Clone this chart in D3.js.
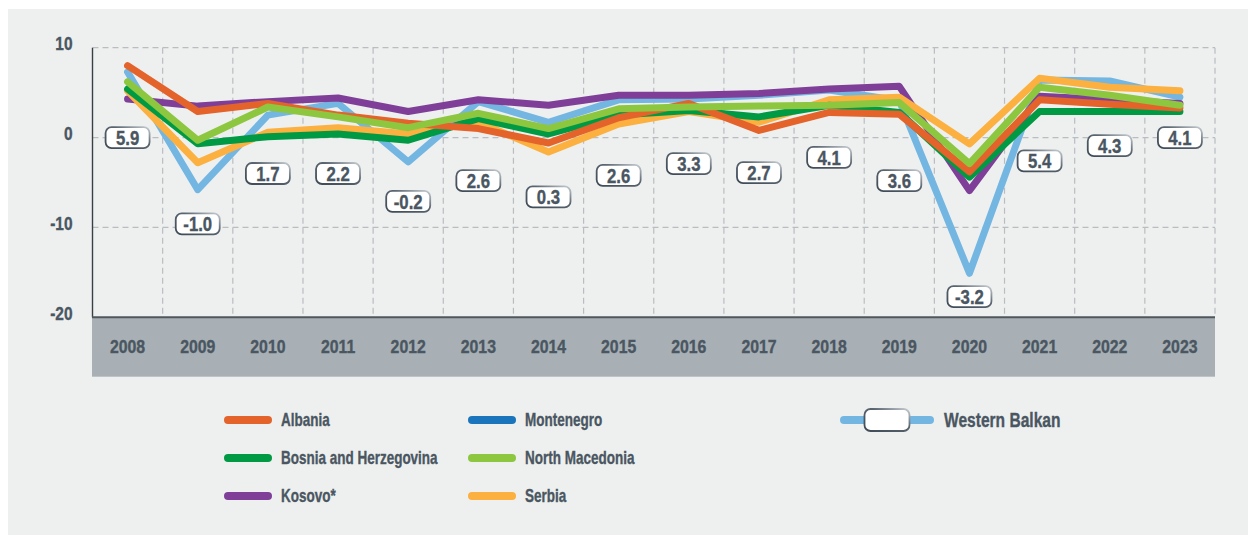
<!DOCTYPE html>
<html>
<head>
<meta charset="utf-8">
<script src="https://cdn.jsdelivr.net/npm/d3@7"></script>
<style>
  html, body { margin: 0; padding: 0; background: #ffffff; }
  svg { display: block; }
  text { font-family: "Liberation Sans", Arial, sans-serif; font-weight: bold; fill: #4a5661; stroke: #4a5661; stroke-width: 0.35px; }
</style>
</head>
<body>
<svg id="chart" width="1248" height="535"></svg>
<script>
// ---------- data ----------
const years = ["2008","2009","2010","2011","2012","2013","2014","2015","2016","2017","2018","2019","2020","2021","2022","2023"];
const albania = [8.0, 2.9, 3.8, 2.5, 1.6, 1.0, -0.6, 2.2, 3.8, 0.8, 2.8, 2.6, -3.8, 4.2, 3.7, 3.3];
const bosnia  = [5.4, -0.7, 0.1, 0.4, -0.3, 2.1, 0.4, 2.5, 3.0, 2.3, 3.6, 2.8, -4.4, 2.9, 2.9, 2.9];
const kosovo  = [4.3, 3.5, 4.0, 4.4, 2.9, 4.2, 3.6, 4.7, 4.7, 4.9, 5.4, 5.7, -5.9, 4.6, 4.2, 3.8];
const northMacedonia = [6.2, -0.3, 3.4, 2.3, 1.1, 2.7, 1.0, 3.2, 3.4, 3.5, 3.6, 3.9, -2.9, 5.6, 4.7, 3.6];
const serbia  = [5.2, -2.8, 0.6, 1.1, 0.4, 1.7, -1.6, 1.5, 2.9, 1.7, 4.2, 4.5, -0.7, 6.6, 5.6, 5.2];
const westernBalkan = [7.3, -5.8, 2.5, 3.8, -2.7, 4.0, 1.7, 4.2, 4.3, 4.7, 5.3, 4.1, -15.1, 6.4, 6.3, 4.5];
const wbLabels = [5.9, -1.0, 1.7, 2.2, -0.2, 2.6, 0.3, 2.6, 3.3, 2.7, 4.1, 3.6, -3.2, 5.4, 4.3, 4.1];
const yTicks = [10, 0, -10, -20];

// layout: where each label box sits, in axis units
const labelAnchor = [0, -9.6, -4.0, -4.0, -7.1, -4.8, -6.6, -4.2, -2.9, -3.9, -2.2, -4.8, -17.7, -2.6, -0.9, 0];

const series = [
  {name: "Western Balkan", values: westernBalkan, color: "#74b6e2"},
  {name: "Kosovo*", values: kosovo, color: "#7f3f98"},
  {name: "Serbia", values: serbia, color: "#fbb040"},
  {name: "Bosnia and Herzegovina", values: bosnia, color: "#009a44"},
  {name: "Albania", values: albania, color: "#e4632a"},
  {name: "North Macedonia", values: northMacedonia, color: "#8dc63f"}
];

const legendItems = [
  {name: "Albania", color: "#e4632a", col: 0, row: 0},
  {name: "Bosnia and Herzegovina", color: "#009a44", col: 0, row: 1},
  {name: "Kosovo*", color: "#7f3f98", col: 0, row: 2},
  {name: "Montenegro", color: "#1b75bc", col: 1, row: 0},
  {name: "North Macedonia", color: "#8dc63f", col: 1, row: 1},
  {name: "Serbia", color: "#fbb040", col: 1, row: 2}
];

// ---------- drawing ----------
(function () {
const svg = d3.select("#chart");
const defs = svg.append("defs");
const grad = defs.append("linearGradient").attr("id","boxStroke")
  .attr("x1","0%").attr("y1","100%").attr("x2","100%").attr("y2","0%");
grad.append("stop").attr("offset","0%").attr("stop-color","#3e4a55");
grad.append("stop").attr("offset","60%").attr("stop-color","#5a6570");
grad.append("stop").attr("offset","100%").attr("stop-color","#c8ced3");

svg.append("rect").attr("x",8).attr("y",9).attr("width",1240).attr("height",526).attr("fill","#eef0ef");

const pL = 92.5, pR = 1215, pT = 47.7, pB = 317.3;
const x = d3.scaleBand().domain(years).range([pL, pR]).padding(0);
const y = d3.scaleLinear().domain([-20, 10]).range([pB, pT]);
const hy = v => String(v).replace("\u2212", "-");

// x-axis band
svg.append("rect").attr("x", pL - 0.5).attr("y", pB).attr("width", pR - pL + 0.5).attr("height", 59.4).attr("fill", "#a8b0b5");

// gridlines
const grid = svg.append("g");
grid.selectAll("line.h").data(yTicks.filter(d => d > -20)).join("line")
  .attr("x1", pL).attr("x2", pR)
  .attr("y1", d => y(d)).attr("y2", d => y(d))
  .attr("stroke", "#b9bdc1").attr("stroke-width", 1.2).attr("stroke-dasharray", "6,4");
grid.selectAll("line.v").data(years).join("line")
  .attr("x1", d => x(d) + x.bandwidth()).attr("x2", d => x(d) + x.bandwidth())
  .attr("y1", pT).attr("y2", pB)
  .attr("stroke", "#b9bdc1").attr("stroke-width", 1.2).attr("stroke-dasharray", "6,4");

// y axis
const ys = 0.86;
const yAxis = d3.axisLeft(y).tickValues(yTicks).tickSize(0).tickPadding(0).tickFormat(d => hy(d3.format("d")(d)));
const ya = svg.append("g").attr("transform", `translate(${pL},0)`).call(yAxis);
ya.select(".domain").remove();
ya.selectAll("text").attr("font-size", 18).style("fill", "#4a5661").attr("dy", "0.1em")
  .attr("x", -20 / ys).attr("transform", `scale(${ys},1)`);
svg.append("line").attr("x1", pL).attr("x2", pL).attr("y1", pT).attr("y2", pB)
  .attr("stroke", "#3a3f44").attr("stroke-width", 1.4);

// x axis
const xs = 0.88;
const xAxis = d3.axisBottom(x).tickSize(0).tickPadding(0);
const xa = svg.append("g").attr("transform", `translate(0,${pB})`).call(xAxis);
xa.select(".domain").remove();
xa.selectAll("text").attr("font-size", 18).attr("y", 29).attr("dy", "0.35em").style("fill", "#4a5661")
  .attr("transform", `scale(${xs},1)`);
svg.append("line").attr("x1", pL - 0.5).attr("x2", pR).attr("y1", pB).attr("y2", pB)
  .attr("stroke", "#50575c").attr("stroke-width", 2);

// lines
const line = d3.line().x((d, i) => x(years[i]) + x.bandwidth() / 2).y(d => y(d));
svg.append("g").selectAll("path").data(series).join("path")
  .attr("d", s => line(s.values))
  .attr("fill", "none").attr("stroke", s => s.color)
  .attr("stroke-width", 7).attr("stroke-linejoin", "round").attr("stroke-linecap", "round");

// label boxes
const fmt = d => hy(d3.format(".1f")(d));
const lab = svg.append("g").selectAll("g").data(wbLabels).join("g")
  .attr("transform", (d, i) => `translate(${x(years[i]) + x.bandwidth() / 2},${y(labelAnchor[i])})`);
lab.append("rect").attr("x", -22).attr("y", -10.5).attr("width", 44).attr("height", 21).attr("rx", 6)
  .attr("fill", "#ffffff").attr("stroke", "url(#boxStroke)").attr("stroke-width", 1.8);
lab.append("text").attr("text-anchor", "middle").attr("dy", "0.37em").attr("font-size", 19.5)
  .attr("transform", "scale(0.86,1)")
  .text(d => fmt(d));

// legend
const ls = 0.75;
const colX = [228, 472];
const rowY = [420, 458, 496];
const lg = svg.append("g").selectAll("g").data(legendItems).join("g")
  .attr("transform", d => `translate(${colX[d.col]},${rowY[d.row]})`);
lg.append("line").attr("x1", 0).attr("x2", 40).attr("y1", 0).attr("y2", 0)
  .attr("stroke", d => d.color).attr("stroke-width", 8).attr("stroke-linecap", "round");
lg.append("text").attr("dy", "0.36em").attr("font-size", 18)
  .attr("transform", `translate(53,0) scale(${ls},1)`).text(d => d.name);

const wbg = svg.append("g").attr("transform", `translate(844,${rowY[0]})`);
wbg.append("line").attr("x1", 0).attr("x2", 86).attr("y1", 0).attr("y2", 0)
  .attr("stroke", "#74b6e2").attr("stroke-width", 8).attr("stroke-linecap", "round");
wbg.append("rect").attr("x", 20.5).attr("y", -11).attr("width", 45).attr("height", 22).attr("rx", 6)
  .attr("fill", "#ffffff").attr("stroke", "url(#boxStroke)").attr("stroke-width", 1.8);
wbg.append("text").attr("dy", "0.36em").attr("font-size", 20.5)
  .attr("transform", `translate(100,0) scale(0.76,1)`).text("Western Balkan");
})();
</script>
</body>
</html>
